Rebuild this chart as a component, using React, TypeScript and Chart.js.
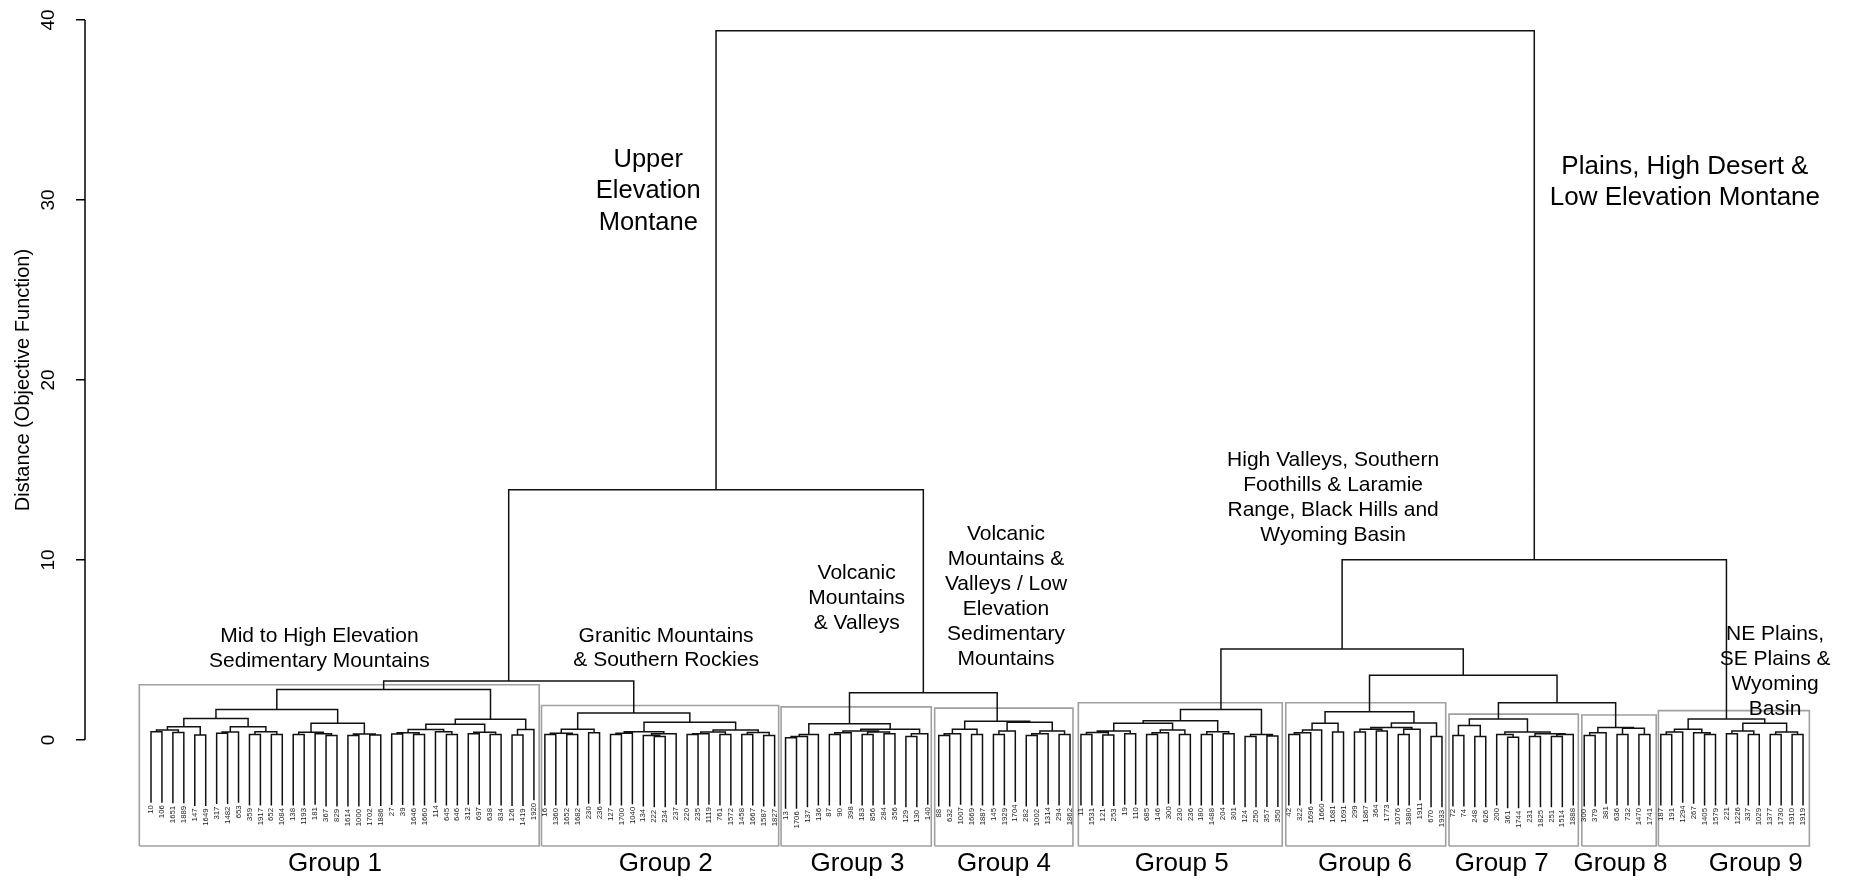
import React, { useEffect, useRef } from "react";
import { Chart, registerables } from "chart.js";

Chart.register(...registerables);

type TreeNode = number | string | TreeNode[];

// ---------- data ----------
const yTickValues = [0, 10, 20, 30, 40];
const axisTitle = "Distance (Objective Function)";

const groupNames = ["Group 1", "Group 2", "Group 3", "Group 4", "Group 5", "Group 6", "Group 7", "Group 8", "Group 9"];
const groupKeys = ["G1", "G2", "G3", "G4", "G5", "G6", "G7", "G8", "G9"];

const group1Leaves = ["10", "106", "1651", "1889", "147", "1649", "317", "1482", "653", "359", "1917", "652", "1084", "138", "1193", "181", "367", "829", "1614", "1000", "1702", "1886", "27", "39", "1646", "1660", "114", "645", "646", "312", "697", "638", "834", "126", "1419", "1920"];
const group2Leaves = ["16", "1360", "1652", "1682", "230", "236", "127", "1700", "1040", "134", "222", "234", "237", "220", "235", "1119", "761", "1572", "1458", "1667", "1587", "1827"];
const group3Leaves = ["13", "1706", "137", "136", "87", "90", "398", "183", "856", "284", "356", "129", "130", "140"];
const group4Leaves = ["88", "632", "1007", "1669", "1887", "145", "1929", "1704", "282", "1002", "1314", "294", "1862"];
const group5Leaves = ["11", "1531", "121", "253", "19", "110", "685", "146", "300", "230", "236", "180", "1488", "204", "301", "124", "250", "357", "350"];
const group6Leaves = ["42", "322", "1696", "1660", "1681", "1691", "299", "1867", "364", "1773", "1076", "1880", "1911", "670", "1933"];
const group7Leaves = ["72", "74", "248", "626", "200", "361", "1744", "231", "1825", "251", "1514", "1888"];
const group8Leaves = ["300", "379", "381", "636", "732", "1470", "1741"];
const group9Leaves = ["187", "191", "1294", "267", "1405", "1579", "221", "1226", "337", "1029", "1377", "1730", "1910", "1919"];
const groupLeaves = [group1Leaves, group2Leaves, group3Leaves, group4Leaves, group5Leaves, group6Leaves, group7Leaves, group8Leaves, group9Leaves];

// merge trees: [height, left, right]; numbers are leaf indices within the group
const group1Tree: TreeNode = [2.81,
  [1.70,
    [1.19,
      [0.74, [0.56, [0.46, 0, 1], [0.42, 2, 3]], [0.28, 4, 5]],
      [0.74, [0.45, [0.38, 6, 7], 8], [0.46, [0.3, 9, 10], [0.3, 11, 12]]]],
    [0.93, [0.43, [0.3, 13, 14], [0.35, 15, [0.25, 16, 17]]], [0.33, [0.25, 18, 19], [0.28, 20, 21]]]],
  [1.15,
    [0.87, [0.59, [0.4, [0.33, 22, 23], [0.3, 24, 25]], [0.46, 26, [0.3, 27, 28]]], [0.43, [0.35, 29, 30], [0.3, 31, 32]]],
    [0.59, [0.28, 33, 34], 35]]];
const group2Tree: TreeNode = [1.5,
  [0.6, [0.37, [0.3, 0, 1], [0.3, 2, 3]], [0.4, 4, 5]],
  [0.98,
    [0.46, [0.37, [0.3, 6, 7], 8], [0.35, [0.25, 9, [0.2, 10, 11]], 12]],
    [0.55, [0.45, [0.35, [0.3, 13, 14], 15], [0.3, 16, 17]], [0.42, [0.3, 18, 19], [0.25, 20, 21]]]]];
const group3Tree: TreeNode = [0.9,
  [0.3, [0.2, [0.12, 0, 1], 2], 3],
  [0.6, [0.5, [0.4, [0.3, 4, 5], 6], [0.45, [0.3, 7, 8], [0.35, 9, 10]]], [0.35, [0.2, 11, 12], 13]]];
const group4Tree: TreeNode = [1.04,
  [0.6, [0.35, [0.25, 0, 1], 2], [0.3, 3, 4]],
  [0.98, [0.5, [0.3, 5, 6], 7], [0.5, [0.35, [0.25, 8, 9], 10], [0.3, 11, 12]]]];
const group5Tree: TreeNode = [1.7,
  [1.07,
    [0.93,
      [0.5, [0.42, [0.3, 0, 1], [0.28, 2, 3]], [0.35, 4, 5]],
      [0.55, [0.4, [0.3, 6, 7], 8], [0.3, 9, 10]]],
    [0.46, [0.3, 11, 12], [0.35, 13, 14]]],
  [0.3, [0.2, 15, 16], [0.22, 17, 18]]];
const group6Tree: TreeNode = [1.57,
  [0.93, [0.55, [0.4, [0.3, 0, 1], 2], 3], [0.45, 4, 5]],
  [0.95, [0.69, [0.6, [0.45, 6, 7], [0.5, 8, 9]], [0.6, [0.3, 10, 11], 12]], [0.2, 13, 14]]];
const group7Tree: TreeNode = [1.17,
  [0.8, [0.25, 0, 1], [0.2, 2, 3]],
  [0.45, [0.3, 4, [0.15, 5, 6]], [0.35, [0.2, 7, 8], [0.3, [0.2, 9, 10], 11]]]];
const group8Tree: TreeNode = [0.7,
  [0.4, [0.25, 0, 1], 2],
  [0.65, [0.3, 3, 4], [0.3, 5, 6]]];
const group9Tree: TreeNode = [1.17,
  [0.6, [0.45, [0.3, 0, 1], 2], [0.4, 3, [0.3, 4, 5]]],
  [0.93, [0.5, [0.35, 6, 7], [0.3, 8, 9]], [0.45, [0.3, 10, 11], [0.3, 12, 13]]]];
const groupTrees = [group1Tree, group2Tree, group3Tree, group4Tree, group5Tree, group6Tree, group7Tree, group8Tree, group9Tree];

const topTree: TreeNode = [39.4,
  [13.9, [3.28, "G1", "G2"], [2.63, "G3", "G4"]],
  [10.02, [5.06, "G5", [3.6, "G6", [2.07, "G7", "G8"]]], "G9"]];

const groupBoxTop = [3.07, 1.92, 1.84, 1.77, 2.07, 2.07, 1.44, 1.39, 1.63];
const groupBoxBottom = -5.89;
const groupLabelX = [17.82, 48.05, 65.58, 78.96, 95.21, 111.97, 124.46, 135.31, 147.68];
const groupLabelY = -7.28;

const annotationLines: string[][] = [
  ["Upper", "Elevation", "Montane"],
  ["Plains, High Desert &", "Low Elevation Montane"],
  ["Mid to High Elevation", "Sedimentary Mountains"],
  ["Granitic Mountains", "& Southern Rockies"],
  ["Volcanic", "Mountains", "& Valleys"],
  ["Volcanic", "Mountains &", "Valleys / Low", "Elevation", "Sedimentary", "Mountains"],
  ["High Valleys, Southern", "Foothills & Laramie", "Range, Black Hills and", "Wyoming Basin"],
  ["NE Plains,", "SE Plains &", "Wyoming", "Basin"],
];
const annotationX = [46.45, 141.2, 16.39, 48.08, 65.5, 79.15, 109.05, 149.45];
const annotationY = [31.85, 31.44, 5.43, 5.44, 8.94, 11.13, 15.24, 5.56];

// ---------- styles / layout ----------
const annotationFontPx = [25.5, 26, 21, 21, 21, 21, 21, 21];
const annotationLineGap = [31.7, 30.5, 24.4, 24.4, 25, 25, 25.1, 25];
const boxPadLeft = [1.07, 0.31, 0.41, 0.37, 0.24, 0.28, 0.36, 0.22, 0.22];
const boxPadRight = [0.48, 0.37, 0.32, 0.27, 0.4, 0.34, 0.46, 0.58, 0.58];
const FONT = '"Liberation Sans", Arial, Helvetica, sans-serif';
const HANG = 0.1 * 39.4;
const AXIS_WIDTH = 85;
const X_MIN = -5.033;
const X_MAX = 158.03;
const Y_MIN = -7.833;
const Y_MAX = 40.556;

// ---------- derived geometry (through the tree) ----------
const groupStart: number[] = [];
{
  let acc = 0;
  groupLeaves.forEach((l) => {
    groupStart.push(acc);
    acc += l.length;
  });
}

type Pt = { x: number; y: number | null };
type LeafMark = { x: number; bottom: number; label: string };
const treePoints: Pt[] = [];
const leafMarks: LeafMark[] = [];

function place(node: TreeNode, g: number, parentH: number): { x: number; h: number } {
  if (typeof node === "string") {
    const gi = groupKeys.indexOf(node);
    return place(groupTrees[gi], gi, parentH);
  }
  if (typeof node === "number") {
    const x = groupStart[g] + node + 1;
    const bottom = parentH - HANG;
    leafMarks.push({ x, bottom, label: groupLeaves[g][node] });
    return { x, h: bottom };
  }
  const h = node[0] as number;
  const l = place(node[1], g, h);
  const r = place(node[2], g, h);
  treePoints.push({ x: l.x, y: l.h }, { x: l.x, y: h }, { x: r.x, y: h }, { x: r.x, y: r.h }, { x: r.x, y: null });
  return { x: (l.x + r.x) / 2, h };
}
place(topTree, -1, 0);

const boxPoints: Pt[] = [];
groupLeaves.forEach((leaves, g) => {
  const x0 = groupStart[g] + 1 - boxPadLeft[g];
  const x1 = groupStart[g] + leaves.length + boxPadRight[g];
  boxPoints.push(
    { x: x0, y: groupBoxBottom },
    { x: x0, y: groupBoxTop[g] },
    { x: x1, y: groupBoxTop[g] },
    { x: x1, y: groupBoxBottom },
    { x: x0, y: groupBoxBottom },
    { x: x0, y: null }
  );
});

const overlayPlugin = {
  id: "dendroOverlay",
  afterDatasetsDraw(chart: any) {
    const { ctx, chartArea } = chart;
    const xs = chart.scales.x;
    const ys = chart.scales.y;
    ctx.save();

    // axis line from first to last tick (R style)
    ctx.strokeStyle = "#000";
    ctx.lineWidth = 1.5;
    ctx.beginPath();
    ctx.moveTo(chartArea.left, ys.getPixelForValue(yTickValues[0]));
    ctx.lineTo(chartArea.left, ys.getPixelForValue(yTickValues[yTickValues.length - 1]));
    ctx.stroke();

    // axis title
    const midY = (ys.getPixelForValue(yTickValues[0]) + ys.getPixelForValue(yTickValues[yTickValues.length - 1])) / 2;
    ctx.fillStyle = "#000";
    ctx.font = `20px ${FONT}`;
    ctx.textAlign = "center";
    ctx.textBaseline = "middle";
    ctx.save();
    ctx.translate(chartArea.left - 62, midY);
    ctx.rotate(-Math.PI / 2);
    ctx.fillText(axisTitle, 0, 0);
    ctx.restore();

    // leaf labels
    ctx.font = `7.8px ${FONT}`;
    ctx.fillStyle = "#1a1a1a";
    ctx.textAlign = "right";
    ctx.textBaseline = "middle";
    leafMarks.forEach((m) => {
      ctx.save();
      ctx.translate(xs.getPixelForValue(m.x), ys.getPixelForValue(m.bottom) + 2.5);
      ctx.rotate(-Math.PI / 2);
      ctx.fillText(m.label, 0, 0);
      ctx.restore();
    });

    // annotations
    ctx.fillStyle = "#000";
    ctx.textAlign = "center";
    ctx.textBaseline = "alphabetic";
    annotationLines.forEach((lines, i) => {
      ctx.font = `${annotationFontPx[i]}px ${FONT}`;
      const px = xs.getPixelForValue(annotationX[i]);
      const py = ys.getPixelForValue(annotationY[i]);
      lines.forEach((t, j) => ctx.fillText(t, px, py + j * annotationLineGap[i]));
    });

    // group labels
    ctx.font = `26px ${FONT}`;
    groupNames.forEach((name, g) => {
      ctx.fillText(name, xs.getPixelForValue(groupLabelX[g]), ys.getPixelForValue(groupLabelY));
    });

    ctx.restore();
  },
};

export default function App() {
  const canvasRef = useRef<HTMLCanvasElement | null>(null);

  useEffect(() => {
    const canvas = canvasRef.current;
    if (!canvas) return;
    const chart = new Chart(canvas, {
      type: "line",
      data: {
        datasets: [
          {
            data: treePoints as any,
            borderColor: "#111",
            borderWidth: 1.5,
            pointRadius: 0,
            fill: false,
            tension: 0,
            spanGaps: false,
            borderJoinStyle: "miter",
          },
          {
            data: boxPoints as any,
            borderColor: "#a0a0a0",
            borderWidth: 1.6,
            pointRadius: 0,
            fill: false,
            tension: 0,
            spanGaps: false,
            borderJoinStyle: "miter",
          },
        ],
      },
      options: {
        animation: false,
        responsive: false,
        devicePixelRatio: 1,
        events: [],
        layout: { padding: { left: 0, right: 2, top: 10, bottom: 0 } },
        plugins: { legend: { display: false }, tooltip: { enabled: false } },
        scales: {
          x: { type: "linear", display: false, min: X_MIN, max: X_MAX },
          y: {
            type: "linear",
            min: Y_MIN,
            max: Y_MAX,
            border: { display: false },
            grid: {
              display: true,
              drawOnChartArea: false,
              drawTicks: true,
              tickLength: 9,
              color: "#000",
              lineWidth: 1.5,
            },
            ticks: {
              autoSkip: false,
              minRotation: 90,
              maxRotation: 90,
              crossAlign: "center",
              padding: 17,
              color: "#000",
              font: { family: FONT, size: 19 },
              callback: (v: any) => String(v),
            },
            afterBuildTicks: (s: any) => {
              s.ticks = yTickValues.map((v) => ({ value: v }));
            },
            afterFit: (s: any) => {
              s.width = AXIS_WIDTH;
              s.paddingTop = 0;
              s.paddingBottom = 0;
              s.paddingLeft = 0;
              s.paddingRight = 0;
            },
          },
        },
      },
      plugins: [overlayPlugin],
    });
    return () => chart.destroy();
  }, []);

  return (
    <div style={{ position: "fixed", left: 0, top: 0, width: 1871, height: 881, background: "#fff" }}>
      <canvas ref={canvasRef} width={1871} height={881} style={{ display: "block" }} />
    </div>
  );
}
